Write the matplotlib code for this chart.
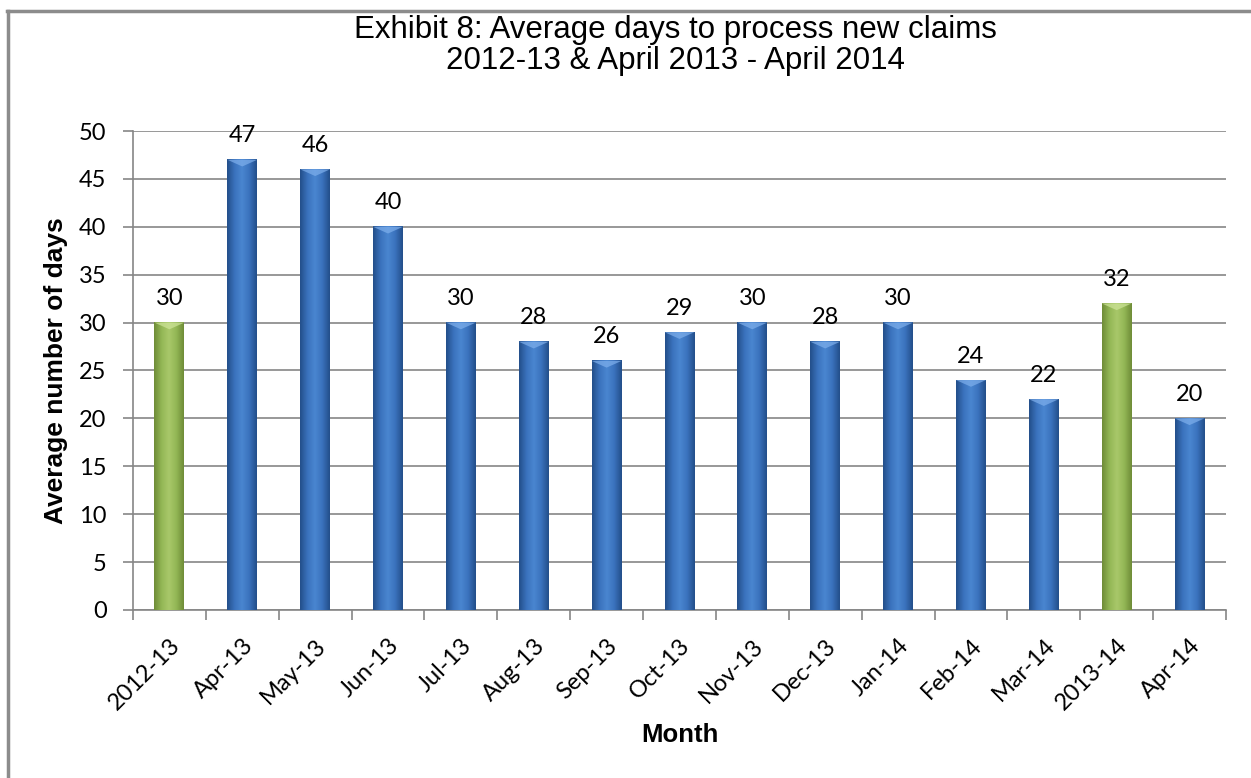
import matplotlib

matplotlib.use("Agg")

import matplotlib.pyplot as plt
import numpy as np
from matplotlib.colors import LinearSegmentedColormap
from matplotlib.lines import Line2D
from matplotlib.patches import Polygon

CATEGORIES = ["2012-13", "Apr-13", "May-13", "Jun-13", "Jul-13", "Aug-13", "Sep-13",
              "Oct-13", "Nov-13", "Dec-13", "Jan-14", "Feb-14", "Mar-14", "2013-14", "Apr-14"]
DAYS = [30, 47, 46, 40, 30, 28, 26, 29, 30, 28, 30, 24, 22, 32, 20]
ANNUAL = {"2012-13", "2013-14"}

Y_TICKS = list(range(0, 51, 5))

TICK_FONT = "Lato"
HEAD_FONT = "Liberation Sans"
GRID_COLOR = "#868686"

BLUE = LinearSegmentedColormap.from_list("blue", ["#234f8a", "#3a72bd", "#4a86d0", "#3a72bd", "#234f8a"])
GREEN = LinearSegmentedColormap.from_list("green", ["#6f8c38", "#93b755", "#a9c86a", "#93b755", "#6f8c38"])
BLUE_TOP = "#7fb0ec"
GREEN_TOP = "#cfe59a"


def shaded_bar(ax, x, h, width, cmap, top_color):
    grad = np.linspace(0, 1, 64).reshape(1, -1)
    ax.imshow(grad, cmap=cmap, aspect="auto", extent=(x - width / 2, x + width / 2, 0, h),
              origin="lower", zorder=3, interpolation="bicubic")
    # bevel on top of the bar
    bevel = 0.7
    tri = Polygon([(x - width / 2, h), (x + width / 2, h), (x, h - bevel)],
                  closed=True, facecolor=top_color, edgecolor="none", alpha=0.7, zorder=4)
    ax.add_patch(tri)


def main():
    fig = plt.figure(figsize=(12.51, 7.78), dpi=100)
    ax = fig.add_axes([0.1063, 0.216, 0.8737, 0.6156])

    x = np.arange(len(CATEGORIES))
    width = 0.41
    for xi, cat, val in zip(x, CATEGORIES, DAYS):
        if cat in ANNUAL:
            shaded_bar(ax, xi, val, width, GREEN, GREEN_TOP)
        else:
            shaded_bar(ax, xi, val, width, BLUE, BLUE_TOP)
        ax.text(xi, val + 1.4, str(val), ha="center", va="bottom",
                fontsize=17, family=TICK_FONT, color="black", zorder=5)

    ax.set_xlim(-0.5, len(CATEGORIES) - 0.5)
    ax.set_ylim(0, 50)
    ax.set_yticks(Y_TICKS)
    ax.set_yticklabels([str(t) for t in Y_TICKS], fontsize=17, family=TICK_FONT)

    ax.set_xticks(np.arange(len(CATEGORIES) + 1) - 0.5)
    ax.set_xticklabels([])
    ax.set_xticks(x, minor=True)
    ax.set_xticklabels(CATEGORIES, minor=True, rotation=45, ha="right", va="top",
                       rotation_mode="anchor", fontsize=17, family=TICK_FONT)
    ax.tick_params(axis="x", which="minor", length=0, pad=18)
    ax.tick_params(axis="x", which="major", length=7, width=1.2, color=GRID_COLOR)
    ax.tick_params(axis="y", length=7, width=1.2, color=GRID_COLOR, pad=12)

    ax.grid(axis="y", color=GRID_COLOR, linewidth=1.2, zorder=0)
    ax.set_axisbelow(True)
    for side in ("top", "right"):
        ax.spines[side].set_visible(False)
    for side in ("left", "bottom"):
        ax.spines[side].set_color(GRID_COLOR)
        ax.spines[side].set_linewidth(1.2)

    ax.set_ylabel("Average number of days", fontsize=19, fontweight="bold", family=HEAD_FONT, labelpad=8)
    ax.set_xlabel("Month", fontsize=18.5, fontweight="bold", family=HEAD_FONT, labelpad=6)

    fig.text(0.54, 0.962, "Exhibit 8: Average days to process new claims", ha="center", va="center",
             fontsize=22.5, family=HEAD_FONT)
    fig.text(0.54, 0.921, "2012-13 & April 2013 - April 2014", ha="center", va="center",
             fontsize=22.5, family=HEAD_FONT)

    # chart frame (clipped at the right and bottom edges)
    fig.add_artist(Line2D([0.0056, 1.0], [0.986, 0.986], color="#8c8c8c", linewidth=2.5,
                          transform=fig.transFigure))
    fig.add_artist(Line2D([0.0064, 0.0064], [0.0, 0.986], color="#8c8c8c", linewidth=2.5,
                          transform=fig.transFigure))

    fig.savefig("out.png", dpi=100)
    plt.close(fig)


if __name__ == "__main__":
    main()
